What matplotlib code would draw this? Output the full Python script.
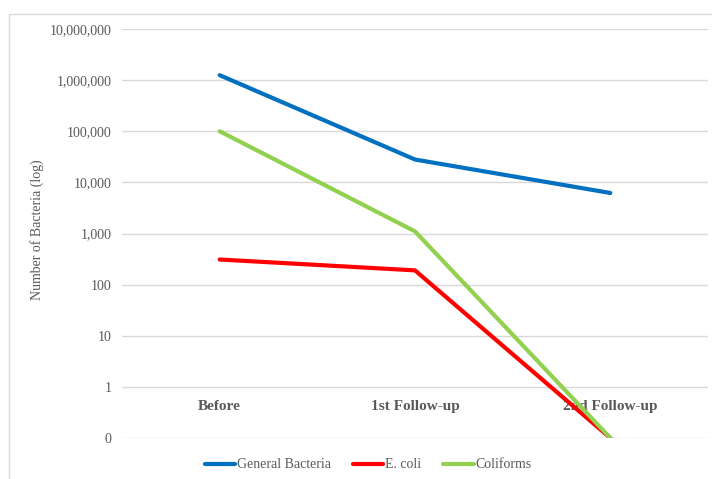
import matplotlib.pyplot as plt
from matplotlib.patches import Rectangle
from matplotlib.ticker import FixedLocator, FuncFormatter
import matplotlib.transforms as mtransforms

plt.rcParams['font.family'] = ['Liberation Serif', 'DejaVu Serif']

# counts per sampling round (0 plotted at the 0.1 floor of the log axis)
etapas = ["Before", "1st Follow-up", "2nd Follow-up"]
bacterias_gerais = [1250000, 28000, 6200]
e_coli = [310, 190, 0.1]
coliformes = [100000, 1100, 0.1]

nomes_series = ["General Bacteria", "E. coli", "Coliforms"]
cores = ['#0070C0', '#FF0000', '#92D050']

fig = plt.figure(figsize=(7.12, 4.79), dpi=100)
ax = fig.add_axes([122 / 712, 41 / 479, (708 - 122) / 712, (438 - 29) / 479])

# moldura externa do grafico
fig.patches.append(Rectangle((9 / 712, -0.1), 2, (479 - 14) / 479 + 0.1,
                             transform=fig.transFigure, fill=False,
                             edgecolor='#D9D9D9', linewidth=1.0))

x = list(range(len(etapas)))
for serie, nome, cor in zip([bacterias_gerais, e_coli, coliformes], nomes_series, cores):
    ax.plot(x, serie, color=cor, linewidth=3, label=nome, solid_capstyle='round')

ax.set_yscale('log')
ax.set_ylim(0.1, 1e7)
ax.set_xlim(-0.5, 2.5)

ticks = [0.1, 1, 10, 100, 1000, 10000, 100000, 1000000, 10000000]
ax.yaxis.set_major_locator(FixedLocator(ticks))
ax.yaxis.set_minor_locator(FixedLocator([]))
ax.yaxis.set_major_formatter(FuncFormatter(lambda v, p: f"{round(v):,}"))
ax.tick_params(axis='y', length=0, pad=7.5, labelsize=10, labelcolor='#595959')
ax.set_xticks([])
ax.grid(axis='y', color='#D9D9D9', linewidth=1.0)
ax.set_axisbelow(True)
for s in ax.spines.values():
    s.set_visible(False)

# rotulos das etapas logo abaixo da linha do 1
trans = mtransforms.blended_transform_factory(ax.transData, ax.transAxes)
for i, etapa in enumerate(etapas):
    ax.text(i, 0.076, etapa, transform=trans, ha='center', va='center',
            fontsize=11, fontweight='bold', color='#595959', zorder=1)

fig.text(37 / 712, 1 - 230 / 479, "Number of Bacteria (log)", rotation=90,
         ha='center', va='center', fontsize=10, color='#595959')

fig.legend(loc='center', bbox_to_anchor=(368 / 712, 1 - 465 / 479), ncol=3,
           frameon=False, fontsize=10, handlelength=2.2, handletextpad=0.1,
           columnspacing=1.6, labelcolor='#595959')

fig.savefig('out.png', dpi=100)
